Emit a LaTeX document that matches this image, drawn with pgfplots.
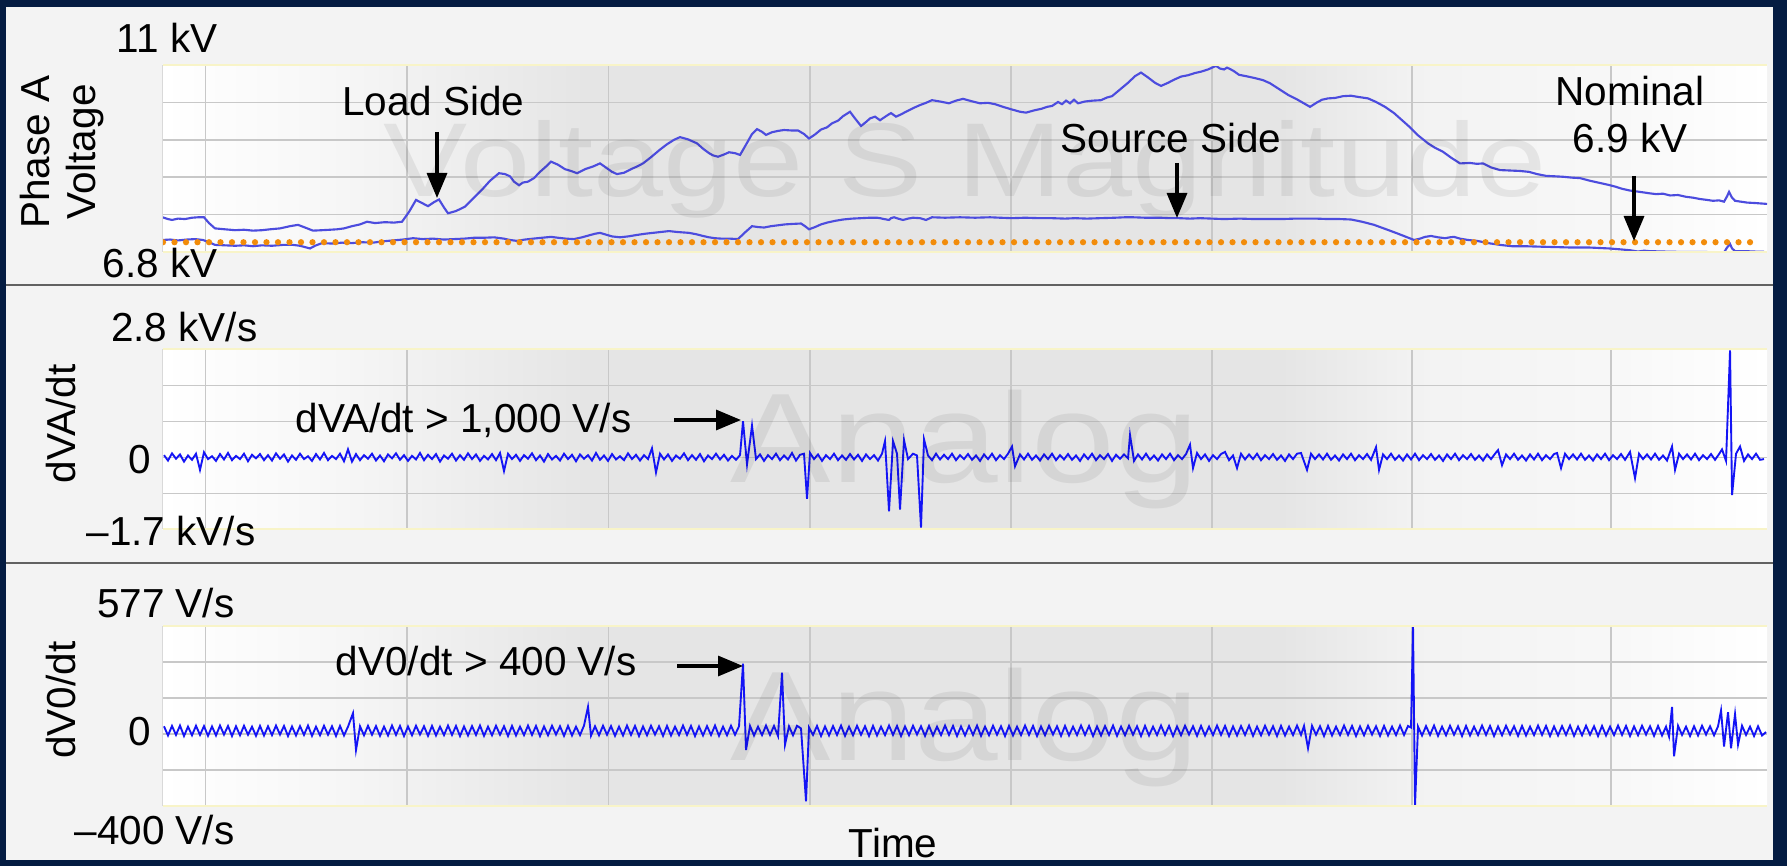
\documentclass[border=0pt]{standalone}
\usepackage{pgfplots}
\pgfplotsset{compat=1.18}
\usepackage{fontspec}
\setmainfont{Liberation Sans}
\usetikzlibrary{arrows.meta}
\definecolor{navy}{RGB}{4,28,66}
\definecolor{bgpanel}{RGB}{243,243,243}
\definecolor{gridc}{RGB}{200,200,200}
\definecolor{trace1}{RGB}{76,76,222}
\definecolor{trace2}{RGB}{20,20,245}
\definecolor{nomorange}{RGB}{242,140,10}
\definecolor{edgeyellow}{RGB}{248,244,200}
\pgfdeclarehorizontalshading{plotbg}{100bp}{color(0bp)=(white); color(25bp)=(white); color(30bp)=(black!3); color(38bp)=(black!10); color(60bp)=(black!10); color(64bp)=(black!5); color(70bp)=(white!97!black); color(75bp)=(white); color(100bp)=(white)}
\pgfplotsset{panel/.style={scale only axis, width=641.8pt, xmin=162.5, xmax=1767,
  xtick={205.5,407,608.5,810,1011,1212,1412,1611}, xticklabels={}, yticklabels={},
  major tick length=0pt, grid=major, major grid style={gridc, line width=0.6pt},
  axis line style={draw=none}, axis background/.style={shading=plotbg},
  anchor=north west}}
\begin{document}
\begin{tikzpicture}
\begin{scope}[x=0.4pt,y=-0.4pt]
\fill[navy] (0,0) rectangle (1787,866);
\fill[bgpanel] (6,7) rectangle (1773,860);
\coordinate (p1) at (162.5,65);
\coordinate (p2) at (162.5,349.3);
\coordinate (p3) at (162.5,626);
\end{scope}

% Panel 1: Phase A voltage (kV)
\begin{axis}[panel, at={(p1)}, height=74.8pt, ymin=6.8, ymax=11, ytick={7.64,8.48,9.32,10.16}]
\addplot[trace1, line width=0.85pt] coordinates {(162.5,7.58)(168,7.54)(172,7.52)(178,7.55)(185,7.54)(192,7.57)(198,7.58)(204,7.58)(209,7.45)(215,7.33)(225,7.31)(235,7.29)(244,7.30)(253,7.28)(262,7.29)(270,7.31)(280,7.33)(290,7.38)(298,7.41)(305,7.35)(313,7.28)(322,7.29)(330,7.30)(337,7.31)(344,7.33)(352,7.38)(360,7.42)(367,7.48)(375,7.45)(385,7.47)(394,7.46)(402,7.48)(409,7.70)(416,7.97)(422,7.90)(428,7.83)(434,7.92)(439,7.98)(444,7.80)(448,7.67)(456,7.72)(465,7.82)(473,8.0)(482,8.2)(490,8.40)(499,8.57)(505,8.55)(510,8.5)(514,8.38)(519,8.30)(523,8.36)(528,8.38)(534,8.46)(540,8.60)(546,8.72)(551,8.83)(558,8.76)(565,8.66)(571,8.62)(577,8.57)(585,8.66)(593,8.72)(600,8.79)(607,8.68)(612,8.60)(617,8.55)(624,8.58)(631,8.66)(637,8.72)(643,8.79)(651,8.93)(660,9.1)(667,9.22)(674,9.32)(680,9.38)(688,9.33)(697,9.24)(703,9.12)(709,9.02)(713,8.97)(718,8.94)(724,8.99)(729,9.04)(735,9.02)(740,8.98)(747,9.25)(752,9.45)(757,9.56)(762,9.50)(766,9.43)(772,9.49)(778,9.52)(784,9.54)(791,9.53)(798,9.53)(804,9.45)(809,9.35)(815,9.44)(821,9.55)(827,9.60)(832,9.69)(838,9.75)(843,9.85)(850,9.95)(855,9.80)(861,9.63)(866,9.72)(870,9.80)(875,9.84)(880,9.76)(884,9.82)(888,9.88)(891,9.92)(896,9.84)(900,9.88)(906,9.95)(913,10.03)(920,10.10)(926,10.15)(932,10.21)(940,10.18)(949,10.14)(956,10.20)(963,10.24)(971,10.19)(980,10.14)(988,10.15)(995,10.12)(1003,10.06)(1012,10.00)(1020,9.95)(1026,9.93)(1034,9.98)(1042,10.02)(1047,10.06)(1052,10.08)(1058,10.17)(1062,10.12)(1066,10.20)(1070,10.14)(1074,10.22)(1078,10.14)(1085,10.18)(1093,10.20)(1101,10.21)(1107,10.27)(1112,10.30)(1120,10.45)(1128,10.60)(1135,10.75)(1141,10.83)(1148,10.72)(1155,10.60)(1161,10.53)(1168,10.60)(1175,10.68)(1181,10.74)(1188,10.77)(1195,10.82)(1201,10.85)(1208,10.90)(1216,10.98)(1220,10.92)(1224,10.90)(1227,10.94)(1230,10.91)(1234,10.86)(1239,10.78)(1248,10.74)(1256,10.70)(1263,10.66)(1270,10.59)(1279,10.46)(1288,10.33)(1296,10.24)(1303,10.15)(1310,10.06)(1317,10.16)(1322,10.22)(1328,10.25)(1335,10.26)(1343,10.30)(1351,10.31)(1359,10.28)(1368,10.25)(1376,10.17)(1385,10.06)(1394,9.92)(1402,9.76)(1410,9.60)(1418,9.42)(1428,9.24)(1435,9.14)(1443,9.05)(1451,8.92)(1460,8.79)(1470,8.80)(1477,8.78)(1483,8.79)(1491,8.70)(1500,8.64)(1510,8.63)(1520,8.62)(1529,8.60)(1537,8.55)(1546,8.51)(1555,8.50)(1563,8.49)(1572,8.47)(1580,8.46)(1590,8.40)(1600,8.35)(1608,8.31)(1615,8.27)(1622,8.22)(1630,8.18)(1640,8.15)(1649,8.12)(1656,8.10)(1663,8.11)(1670,8.07)(1678,8.08)(1686,8.04)(1693,8.02)(1700,7.99)(1707,7.97)(1713,7.95)(1719,7.96)(1724,7.93)(1727,8.05)(1729,8.15)(1732,8.02)(1735,7.95)(1741,7.93)(1747,7.91)(1755,7.90)(1761,7.89)(1767,7.88)};
\addplot[trace1, line width=0.85pt] coordinates {(162.5,7.07)(170,7.08)(178,7.06)(187,7.08)(195,7.09)(203,7.07)(209,7.02)(215,6.96)(225,6.95)(235,6.94)(244,6.95)(253,6.93)(262,6.95)(272,6.94)(283,6.96)(293,6.96)(300,6.94)(305,6.91)(310,6.88)(315,6.94)(322,7.00)(332,6.99)(342,7.01)(352,7.00)(362,7.02)(373,7.01)(383,7.04)(393,7.06)(403,7.08)(413,7.11)(423,7.09)(433,7.10)(444,7.08)(454,7.09)(464,7.10)(474,7.12)(484,7.12)(494,7.13)(504,7.10)(510,7.07)(517,7.05)(525,7.08)(533,7.10)(542,7.12)(551,7.14)(558,7.12)(566,7.10)(574,7.09)(582,7.13)(590,7.18)(595,7.21)(600,7.23)(606,7.19)(612,7.15)(620,7.13)(628,7.15)(636,7.18)(645,7.21)(653,7.23)(661,7.25)(669,7.27)(677,7.25)(683,7.24)(689,7.23)(696,7.20)(703,7.16)(709,7.13)(715,7.11)(722,7.10)(730,7.10)(738,7.09)(745,7.24)(752,7.38)(758,7.36)(764,7.35)(771,7.38)(778,7.40)(785,7.42)(792,7.43)(801,7.44)(805,7.38)(809,7.31)(815,7.36)(821,7.42)(827,7.46)(835,7.50)(843,7.53)(852,7.55)(861,7.56)(870,7.57)(877,7.57)(880,7.56)(884,7.54)(889,7.52)(891,7.56)(894,7.58)(898,7.55)(903,7.52)(908,7.55)(913,7.57)(920,7.56)(923,7.54)(926,7.52)(929,7.55)(932,7.58)(945,7.57)(960,7.58)(975,7.57)(990,7.58)(1000,7.57)(1012,7.56)(1025,7.57)(1040,7.56)(1052,7.56)(1065,7.55)(1075,7.56)(1087,7.55)(1100,7.56)(1115,7.57)(1125,7.58)(1133,7.58)(1145,7.57)(1160,7.57)(1170,7.56)(1179,7.56)(1190,7.55)(1200,7.56)(1212,7.55)(1224,7.54)(1240,7.55)(1255,7.54)(1270,7.54)(1282,7.54)(1295,7.55)(1305,7.55)(1316,7.55)(1328,7.54)(1340,7.54)(1351,7.53)(1362,7.48)(1374,7.41)(1385,7.32)(1397,7.22)(1405,7.15)(1414,7.07)(1420,7.10)(1425,7.14)(1431,7.16)(1438,7.13)(1445,7.11)(1450,7.13)(1454,7.14)(1460,7.10)(1468,7.07)(1477,7.05)(1488,7.00)(1500,6.96)(1512,6.93)(1525,6.93)(1540,6.92)(1557,6.91)(1572,6.90)(1590,6.90)(1609,6.88)(1620,6.86)(1630,6.84)(1638,6.81)(1644,6.83)(1649,6.82)(1665,6.81)(1685,6.80)(1705,6.80)(1724,6.79)(1727,6.90)(1730,6.98)(1732,6.88)(1735,6.82)(1745,6.82)(1755,6.81)(1764,6.81)};
\addplot[nomorange, line width=2.5pt, line cap=round, dash pattern=on 0pt off 4.6pt] coordinates {(163,7.02)(1758,7.02)};
\end{axis}

% Panel 2: dVA/dt (kV/s)
\begin{axis}[panel, at={(p2)}, height=72pt, ymin=-2, ymax=3, ytick={-1,0,1,2}]
\addplot[trace2, line width=0.75pt] coordinates {(164,.06)(168,-.09)(172,.11)(176,-.04)(180,.08)(184,-.12)(188,.05)(192,-.07)(196,.1)(200,-.35)(204,.14)(208,-.05)(212,.03)(216,-.1)(220,.09)(224,-.06)(228,.12)(232,-.08)(236,.04)(240,-.05)(244,.1)(248,-.11)(252,.07)(256,-.03)(260,.09)
(264,-.08)(268,.06)(272,-.09)(276,.11)(280,-.04)(284,.08)(288,-.12)(292,.05)(296,-.07)(300,.1)(304,-.05)(308,.03)(312,-.1)(316,.09)(320,-.06)(324,.12)(328,-.08)(332,.04)(336,-.05)(340,.1)(344,-.11)(348,.22)(352,-.12)(356,.09)(360,-.08)
(364,.06)(368,-.04)(372,.1)(376,-.09)(380,.05)(384,-.11)(388,.08)(392,-.03)(396,.11)(400,-.07)(404,.06)(408,-.1)(412,.04)(416,-.06)(420,.12)(424,-.08)(428,.07)(432,-.05)(436,.09)(440,-.12)(444,.05)(448,-.04)(452,.1)(456,-.09)(460,.06)
(464,-.07)(468,.11)(472,-.05)(476,.08)(480,-.1)(484,.04)(488,-.06)(492,.09)(496,-.08)(500,.12)(504,-.38)(508,.1)(512,-.05)(516,.07)(520,-.1)(524,.06)(528,-.04)(532,.11)(536,-.08)(540,.05)(544,-.12)(548,.09)(552,-.06)(556,.04)(560,-.09)
(564,.1)(568,-.05)(572,.07)(576,-.11)(580,.08)(584,-.04)(588,.06)(592,-.09)(596,.12)(600,-.07)(604,.05)(608,-.1)(612,.09)(616,-.06)(620,.03)(624,-.08)(628,.11)(632,-.05)(636,.07)(640,-.09)(644,.06)(648,-.05)(652,.25)(656,-.42)(660,.1)
(664,-.06)(668,.08)(672,-.1)(676,.05)(680,-.04)(684,.11)(688,-.08)(692,.06)(696,-.07)(700,.09)(704,-.11)(708,.05)(712,-.05)(716,.1)(720,-.06)(724,.07)(728,-.09)(732,.04)(736,-.07)(740,.06)(743,1.0)(747,-.2)(752,.88)(756,-.05)(760,.08)
(764,-.1)(768,.06)(772,-.05)(776,.1)(780,-.08)(784,.05)(788,-.06)(792,.12)(796,-.09)(800,.07)(804,.1)(807,-1.15)(810,.12)(814,-.05)(818,.08)(822,-.1)(826,.06)(830,-.05)(834,.1)(838,-.08)(842,.05)(846,-.07)(850,.09)(854,-.06)(858,.07)(862,-.1)
(866,.08)(870,-.05)(874,.06)(878,-.09)(882,.1)(885,.45)(889,-1.5)(893,.45)(897,.1)(900,-1.45)(904,.48)(908,-.05)(913,.1)(917,.05)(921,-1.95)(924,.5)(928,.05)(932,-.08)(936,.1)(940,-.06)(944,.07)(948,-.05)(952,.1)(956,-.08)(960,.06)
(964,-.05)(968,.09)(972,-.07)(976,.05)(980,-.1)(984,.08)(988,-.05)(992,.1)(996,-.08)(1000,.06)(1004,-.05)(1008,.1)(1012,.3)(1015,-.25)(1020,.08)(1024,-.06)(1028,.1)(1032,-.07)(1036,.05)(1040,-.09)(1044,.08)(1048,-.05)(1052,.1)(1056,-.08)(1060,.06)
(1064,-.06)(1068,.09)(1072,-.07)(1076,.05)(1080,-.1)(1084,.08)(1088,-.05)(1092,.1)(1096,-.08)(1100,.06)(1104,-.05)(1108,.09)(1112,-.1)(1116,.07)(1120,-.04)(1124,.08)(1128,-.03)(1130,.62)(1134,-.1)(1138,.08)(1142,-.06)(1146,.1)(1150,-.07)(1154,.05)(1158,-.09)
(1162,.08)(1166,-.05)(1170,.1)(1174,-.08)(1178,.06)(1182,-.05)(1186,.09)(1190,.35)(1193,-.3)(1197,.12)(1201,-.05)(1205,.08)(1209,-.1)(1213,.06)(1217,-.05)(1221,.09)(1225,.15)(1229,-.08)(1233,.05)(1237,-.3)(1241,.1)(1245,-.06)(1249,.08)(1253,-.05)(1257,.1)
(1261,-.08)(1265,.06)(1269,-.05)(1273,.09)(1277,-.07)(1281,.05)(1285,-.1)(1289,.08)(1293,-.05)(1297,.1)(1301,.12)(1307,-.35)(1311,.1)(1315,-.05)(1319,.08)(1323,-.06)(1327,.1)(1331,-.07)(1335,.05)(1339,-.09)(1343,.08)(1347,-.05)(1351,.1)(1355,-.08)(1359,.06)
(1363,-.05)(1367,.09)(1371,-.07)(1376,.28)(1379,-.35)(1383,.08)(1387,-.05)(1391,.1)(1395,-.07)(1399,.05)(1403,-.09)(1407,.08)(1411,-.06)(1415,.1)(1419,-.08)(1423,.06)(1427,-.05)(1431,.09)(1435,-.07)(1439,.05)(1443,-.1)(1447,.08)(1451,-.05)(1455,.1)(1459,-.08)
(1463,.06)(1467,-.05)(1471,.09)(1475,-.07)(1479,.05)(1483,-.09)(1487,.08)(1491,-.05)(1495,.1)(1498,.2)(1502,-.22)(1506,.08)(1510,-.05)(1514,.1)(1518,-.07)(1522,.05)(1526,-.09)(1530,.08)(1534,-.06)(1538,.1)(1542,-.08)(1546,.06)(1550,-.05)(1554,.09)(1557,.12)(1561,-.3)
(1565,.1)(1569,-.05)(1573,.08)(1577,-.06)(1581,.1)(1585,-.07)(1589,.05)(1593,-.09)(1597,.08)(1601,-.05)(1605,.1)(1609,-.08)(1613,.06)(1617,-.05)(1621,.09)(1625,-.07)(1630,.15)(1635,-.58)(1639,.1)(1643,-.05)(1647,.08)(1651,-.06)(1655,.1)(1659,-.07)
(1663,.05)(1667,-.09)(1672,.3)(1675,-.35)(1679,.1)(1683,-.05)(1687,.08)(1691,-.06)(1695,.1)(1699,-.08)(1703,.06)(1707,-.05)(1711,.09)(1715,-.07)(1719,.09)(1722,.22)(1726,-.1)(1730,2.97)(1732,-1.05)(1736,.1)(1740,.3)(1744,-.1)(1748,.08)(1752,-.05)(1756,.1)(1760,-.07)(1764,-.05)};
\end{axis}

% Panel 3: dV0/dt (V/s)
\begin{axis}[panel, at={(p3)}, height=71.9pt, ymin=-400, ymax=600, ytick={-200,0,200,400}]
\addplot[trace2, line width=0.75pt] coordinates {(164,42)(168,-9)(172,44)(176,-6)(180,46)(184,-12)(188,40)(192,-8)(196,45)(200,-6)(204,43)(208,-11)(212,41)(216,-9)(220,46)(224,-4)(228,44)(232,-12)(236,42)(240,-8)(244,45)(248,-5)(252,40)(256,-11)(260,44)
(264,-9)(268,42)(272,-7)(276,46)(280,-4)(284,44)(288,-12)(292,41)(296,-9)(300,43)(304,-6)(308,46)(312,-11)(316,40)(320,-8)(324,45)(328,-5)(332,42)(336,-12)(340,44)(344,-9)(348,40)(353,115)(356,-90)(360,42)
(364,-8)(368,45)(372,-5)(376,43)(380,-11)(384,40)(388,-9)(392,46)(396,-6)(400,44)(404,-12)(408,41)(412,-8)(416,45)(420,-4)(424,42)(428,-11)(432,44)(436,-9)(440,40)(444,-7)(448,46)(452,-6)(456,44)(460,-12)
(464,41)(468,-9)(472,43)(476,-6)(480,46)(484,-11)(488,40)(492,-8)(496,45)(500,-5)(504,42)(508,-12)(512,44)(516,-9)(520,40)(524,-7)(528,46)(532,-6)(536,44)(540,-12)(544,41)(548,-8)(552,45)(556,-4)(560,42)
(564,-11)(568,44)(572,-9)(576,40)(580,-7)(584,46)(588,150)(591,-10)(595,42)(599,-8)(603,45)(607,-5)(611,43)(615,-11)(619,40)(623,-9)(627,46)(631,-6)(635,44)(639,-12)(643,41)(647,-8)(651,45)(655,-4)(659,42)
(663,-11)(667,44)(671,-9)(675,40)(679,-7)(683,46)(687,-6)(691,44)(695,-12)(699,41)(703,-9)(707,43)(711,-6)(715,46)(719,-11)(723,40)(727,-8)(731,45)(735,-5)(739,42)(743,390)(746,-90)(750,44)(754,-9)(758,40)
(762,-7)(766,46)(770,-6)(774,44)(778,-12)(782,340)(785,-60)(789,42)(793,-8)(797,45)(801,30)(806,-375)(809,35)(813,-6)(817,44)(821,-12)(825,41)(829,-9)(833,43)(837,-6)(841,46)(845,-11)(849,40)(853,-8)(857,45)
(861,-5)(865,42)(869,-12)(873,44)(877,-9)(881,40)(885,-7)(889,46)(893,-6)(897,44)(901,-12)(905,41)(909,-8)(913,45)(917,-4)(921,42)(925,-11)(929,44)(933,-9)(937,40)(941,-7)(945,46)(949,-6)(953,44)(957,-12)
(961,41)(965,-9)(969,43)(973,-6)(977,46)(981,-11)(985,40)(989,-8)(993,45)(997,-5)(1001,42)(1005,-12)(1009,44)(1013,-9)(1017,40)(1021,-7)(1025,46)(1029,-6)(1033,44)(1037,-12)(1041,41)(1045,-8)(1049,45)(1053,-4)(1057,42)
(1061,-11)(1065,44)(1069,-9)(1073,40)(1077,-7)(1081,46)(1085,-6)(1089,44)(1093,-12)(1097,41)(1101,-9)(1105,43)(1109,-6)(1113,46)(1117,-11)(1121,40)(1125,-8)(1129,45)(1133,-5)(1137,42)(1141,-12)(1145,44)(1149,-9)(1153,40)(1157,-7)
(1161,46)(1165,-6)(1169,44)(1173,-12)(1177,41)(1181,-8)(1185,45)(1189,-4)(1193,42)(1197,-11)(1201,44)(1205,-9)(1209,40)(1213,-7)(1217,46)(1221,-6)(1225,44)(1229,-12)(1233,41)(1237,-9)(1241,43)(1245,-6)(1249,46)(1253,-11)(1257,40)
(1261,-8)(1265,45)(1269,-5)(1273,42)(1277,-12)(1281,44)(1285,-9)(1289,40)(1293,-7)(1297,46)(1301,-6)(1304,44)(1308,-80)(1312,45)(1316,-5)(1320,42)(1324,-12)(1328,44)(1332,-9)(1336,40)(1340,-7)(1344,46)(1348,-6)(1352,44)(1356,-12)
(1360,41)(1364,-8)(1368,45)(1372,-4)(1376,42)(1380,-11)(1384,44)(1388,-9)(1392,40)(1396,-7)(1400,46)(1404,-6)(1408,44)(1411,35)(1413,598)(1415,-398)(1418,40)(1422,-9)(1426,43)(1430,-6)(1434,46)(1438,-11)(1442,40)(1446,-8)(1450,45)(1454,-5)(1458,42)
(1462,-12)(1466,44)(1470,-9)(1474,40)(1478,-7)(1482,46)(1486,-6)(1490,44)(1494,-12)(1498,41)(1502,-8)(1506,45)(1510,-4)(1514,42)(1518,-11)(1522,44)(1526,-9)(1530,40)(1534,-7)(1538,46)(1542,-6)(1546,44)(1550,-12)(1554,41)(1558,-9)
(1562,43)(1566,-6)(1570,46)(1574,-11)(1578,40)(1582,-8)(1586,45)(1590,-5)(1594,42)(1598,-12)(1602,44)(1606,-9)(1610,40)(1614,-7)(1618,46)(1622,-6)(1626,44)(1630,-12)(1634,41)(1638,-8)(1642,45)(1646,-4)(1650,42)(1654,-11)(1658,44)
(1662,-9)(1666,40)(1669,-15)(1672,150)(1674,-125)(1678,45)(1682,-6)(1686,40)(1690,-12)(1694,42)(1698,-9)(1702,45)(1706,-4)(1710,42)(1714,-8)(1718,42)(1721,130)(1724,-70)(1728,120)(1731,-80)(1735,110)(1738,-60)(1742,45)(1746,-6)(1750,40)(1754,-12)(1758,42)(1762,-9)(1766,10)};
\end{axis}

\begin{scope}[x=0.4pt,y=-0.4pt, every node/.style={inner sep=0pt}]
% plot area edges
\foreach \t/\b in {65/252, 349.3/529.3, 626/805.7}{
  \draw[edgeyellow, line width=0.8pt] (162.5,\t) -- (1767,\t);
  \draw[edgeyellow, line width=0.8pt] (162.5,\b) -- (1767,\b);
  \draw[black!15, line width=0.5pt] (162.5,\t) -- (162.5,\b);
}
% separators
\draw[black!62, line width=1pt] (6,285) -- (1773,285);
\draw[black!62, line width=1pt] (6,563) -- (1773,563);
% watermarks
\node[anchor=base, xscale=1.2, font=\fontsize{42}{42}\selectfont, text=black, opacity=0.065] at (965,197) {Voltage S Magnitude};
\node[anchor=base, xscale=1.18, font=\fontsize{51}{51}\selectfont, text=black, opacity=0.065] at (965,482) {Analog};
\node[anchor=base, xscale=1.18, font=\fontsize{51}{51}\selectfont, text=black, opacity=0.065] at (965,760) {Analog};
% labels
\begin{scope}[every node/.append style={font=\fontsize{16.2}{19}\selectfont}]
\node[anchor=base east] at (218,53) {11 kV};
\node[anchor=base east] at (218,278) {6.8 kV};
\node[anchor=base east] at (258,341) {2.8 kV/s};
\node[anchor=base east] at (152,473) {0};
\node[anchor=base east] at (256,545) {–1.7 kV/s};
\node[anchor=base east] at (235,617) {577 V/s};
\node[anchor=base east] at (152,745) {0};
\node[anchor=base east] at (235,844) {–400 V/s};
\node[anchor=base] at (893,857) {Time};
\node[anchor=base, rotate=90] at (49,152) {Phase A};
\node[anchor=base, rotate=90] at (95,152) {Voltage};
\node[anchor=base, rotate=90] at (75,424) {dVA/dt};
\node[anchor=base, rotate=90] at (75,700) {dV0/dt};
\node[anchor=base east] at (525,116) {Load Side};
\node[anchor=base east] at (1282,153) {Source Side};
\node[anchor=base] at (1630,106) {Nominal};
\node[anchor=base] at (1630,153) {6.9 kV};
\node[anchor=base east] at (632,432) {dVA/dt > 1,000 V/s};
\node[anchor=base east] at (637,675) {dV0/dt > 400 V/s};
\end{scope}
% arrows
\begin{scope}[-{Triangle[length=10pt,width=8pt]}, line width=1.3pt]
\draw (437,132) -- (437,198);
\draw (1177,163) -- (1177,218);
\draw (1634,176) -- (1634,241);
\draw (674,420) -- (741,420);
\draw (677,666) -- (743,666);
\end{scope}
\end{scope}
\end{tikzpicture}
\end{document}
